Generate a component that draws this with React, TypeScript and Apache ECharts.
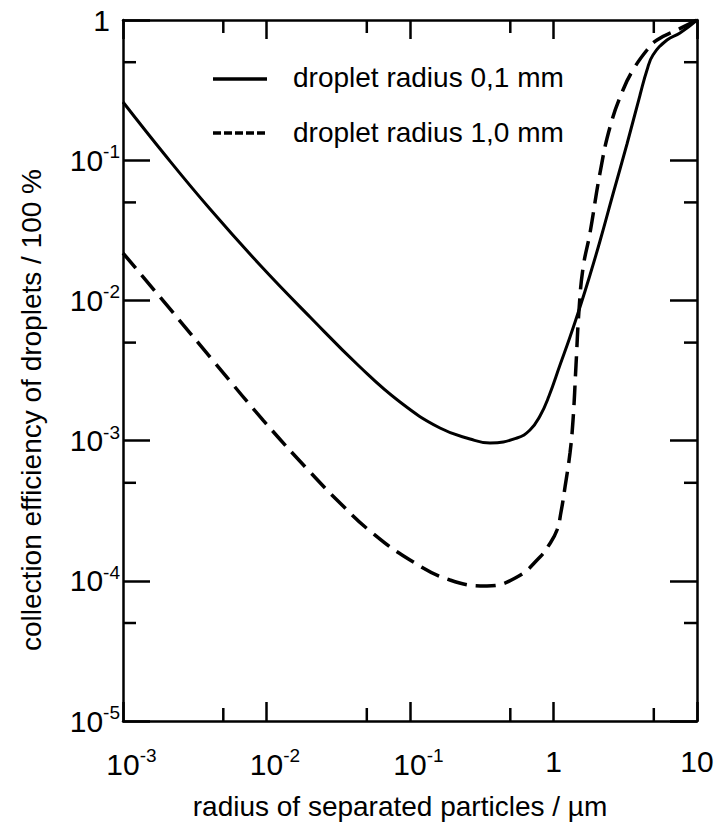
import React, { useEffect, useRef } from 'react';
import * as echarts from 'echarts';

const FONT = '"Liberation Sans", Arial, Helvetica, sans-serif';

// droplet radius 0,1 mm (solid)
const radiusSmall = [0.001, 0.001963, 0.00404, 0.009009, 0.0201, 0.04484, 0.08517, 0.1618, 0.2619, 0.361, 0.5566, 0.6857, 0.8051, 0.9303, 1.11, 1.303, 1.53, 1.796, 2.109, 2.598, 3.252, 4.008, 4.483, 4.935, 6.18, 7.611, 10];
const effSmall = [0.26, 0.1089, 0.04486, 0.01789, 0.007614, 0.00335, 0.001885, 0.00123, 0.001027, 0.000961, 0.001043, 0.00119, 0.001498, 0.00208, 0.00346, 0.005481, 0.008972, 0.01518, 0.02653, 0.05739, 0.1305, 0.2917, 0.4398, 0.5627, 0.7201, 0.8078, 1];

// droplet radius 1,0 mm (dashed)
const radiusLarge = [0.001, 0.002126, 0.004377, 0.009454, 0.0201, 0.03253, 0.05265, 0.1, 0.19, 0.344, 0.5566, 0.8051, 0.9303, 1.058, 1.128, 1.203, 1.303, 1.368, 1.435, 1.506, 1.606, 1.796, 2.109, 2.476, 3.05, 3.581, 4.483, 5.264, 7.256, 10];
const effLarge = [0.02178, 0.008686, 0.003578, 0.001402, 0.000597, 0.0003589, 0.0002265, 0.0001407, 0.0001013, 0.00009182, 0.0001064, 0.0001478, 0.00018, 0.0002304, 0.0003095, 0.0004667, 0.0008155, 0.001402, 0.00346, 0.008541, 0.01702, 0.03025, 0.08105, 0.1725, 0.3168, 0.4398, 0.6109, 0.7201, 0.8484, 1];

const seriesNames = ['droplet radius 0,1 mm', 'droplet radius 1,0 mm'];
const xRange = [0.001, 10];
const yRange = [0.00001, 1];
const minorTicksX = [0.005, 0.05, 0.5, 5];
const minorTicksY = [0.00005, 0.0005, 0.005, 0.05, 0.5];
const xTitle = 'radius of separated particles / µm';
const yTitle = 'collection efficiency of droplets / 100 %';

const expOf = (v: number) => Math.round(Math.log10(v));

const rich = {
  b: { fontSize: 30, fontFamily: FONT, color: '#000', verticalAlign: 'middle' },
  s: { fontSize: 19, fontFamily: FONT, color: '#000', verticalAlign: 'middle', padding: [0, 0, 17, 0] },
  g: { fontSize: 19, fontFamily: FONT, color: 'rgba(0,0,0,0)', verticalAlign: 'middle', padding: [0, 0, 17, 0] },
  one: { fontSize: 30, fontFamily: FONT, color: '#000', verticalAlign: 'middle', padding: [0, 10, 0, 0] },
};

const xLabel = (v: number) => {
  const e = expOf(v);
  if (e === 0) return '{b|1}';
  if (e === 1) return '{b|10}';
  return `{g|${e}}{b|10}{s|${e}}`;
};
const yLabel = (v: number) => {
  const e = expOf(v);
  if (e === 0) return '{one|1}';
  return `{b|10}{s|${e}}`;
};

const AXIS_W = 2.5;

export default function App() {
  const ref = useRef<HTMLDivElement>(null);
  useEffect(() => {
    if (!ref.current) return;
    const chart = echarts.init(ref.current, null, { renderer: 'svg' });
    const baseX = (pos: string, showLabel: boolean) => ({
      type: 'log',
      logBase: 10,
      position: pos,
      min: xRange[0],
      max: xRange[1],
      splitNumber: 4,
      axisLine: { show: true, onZero: false, lineStyle: { color: '#000', width: AXIS_W } },
      axisTick: { show: true, inside: true, length: 19, lineStyle: { color: '#000', width: AXIS_W } },
      axisLabel: { show: showLabel, formatter: xLabel, rich, margin: 25 },
      splitLine: { show: false },
    });
    const baseY = (pos: string, showLabel: boolean) => ({
      type: 'log',
      logBase: 10,
      position: pos,
      min: yRange[0],
      max: yRange[1],
      splitNumber: 5,
      axisLine: { show: true, onZero: false, lineStyle: { color: '#000', width: AXIS_W } },
      axisTick: { show: true, inside: true, length: 27, lineStyle: { color: '#000', width: AXIS_W } },
      axisLabel: { show: showLabel, formatter: yLabel, rich, margin: 3 },
      splitLine: { show: false },
    });
    const tickLine = (x1: number, y1: number, x2: number, y2: number) => ({
      type: 'line',
      shape: { x1, y1, x2, y2 },
      style: { stroke: '#000', lineWidth: AXIS_W },
    });
    chart.setOption({
      animation: false,
      backgroundColor: '#fff',
      grid: { left: 123, right: 21, top: 20, bottom: 109, containLabel: false },
      xAxis: [baseX('bottom', true), baseX('top', false)],
      yAxis: [baseY('left', true), baseY('right', false)],
      series: [
        {
          name: seriesNames[0],
          type: 'line',
          xAxisIndex: 0,
          yAxisIndex: 0,
          data: radiusSmall.map((x, i) => [x, effSmall[i]]),
          symbol: 'none',
          smooth: 0.45,
          lineStyle: { color: '#000', width: 3, type: 'solid' },
        },
        {
          name: seriesNames[1],
          type: 'line',
          xAxisIndex: 0,
          yAxisIndex: 0,
          data: radiusLarge.map((x, i) => [x, effLarge[i]]),
          symbol: 'none',
          smooth: 0.45,
          lineStyle: { color: '#000', width: 3.5, type: [20, 9] },
        },
        {
          type: 'custom',
          xAxisIndex: 0,
          yAxisIndex: 0,
          silent: true,
          clip: false,
          data: minorTicksX.map((v) => [v, 1]),
          renderItem: (_p: any, api: any) => {
            const v = api.value(0);
            const b = api.coord([v, yRange[0]]);
            const t = api.coord([v, yRange[1]]);
            return {
              type: 'group',
              children: [tickLine(b[0], b[1], b[0], b[1] - 13), tickLine(t[0], t[1], t[0], t[1] + 13)],
            };
          },
        },
        {
          type: 'custom',
          xAxisIndex: 0,
          yAxisIndex: 0,
          silent: true,
          clip: false,
          data: minorTicksY.map((v) => [1, v]),
          renderItem: (_p: any, api: any) => {
            const v = api.value(1);
            const l = api.coord([xRange[0], v]);
            const r = api.coord([xRange[1], v]);
            return {
              type: 'group',
              children: [tickLine(l[0], l[1], l[0] + 13, l[1]), tickLine(r[0], r[1], r[0] - 13, r[1])],
            };
          },
        },
      ],
      graphic: [
        { type: 'line', shape: { x1: 213, y1: 79, x2: 267, y2: 79 }, style: { stroke: '#000', lineWidth: 3.5 } },
        { type: 'line', shape: { x1: 213, y1: 133, x2: 267, y2: 133 }, style: { stroke: '#000', lineWidth: 3.5, lineDash: [8, 3] } },
        { type: 'text', x: 293, y: 77, style: { text: seriesNames[0], fontSize: 28, fontFamily: FONT, fill: '#000', align: 'left', verticalAlign: 'middle' } },
        { type: 'text', x: 293, y: 132, style: { text: seriesNames[1], fontSize: 28, fontFamily: FONT, fill: '#000', align: 'left', verticalAlign: 'middle' } },
        { type: 'text', x: 400, y: 806, style: { text: xTitle, fontSize: 28, fontFamily: FONT, fill: '#000', align: 'center', verticalAlign: 'middle' } },
        { type: 'text', x: 31, y: 410, rotation: Math.PI / 2, style: { text: yTitle, fontSize: 28, fontFamily: FONT, fill: '#000', align: 'center', verticalAlign: 'middle' } },
      ],
    });
    return () => chart.dispose();
  }, []);
  return <div ref={ref} style={{ position: 'fixed', left: 0, top: 0, width: 718, height: 830 }} />;
}
